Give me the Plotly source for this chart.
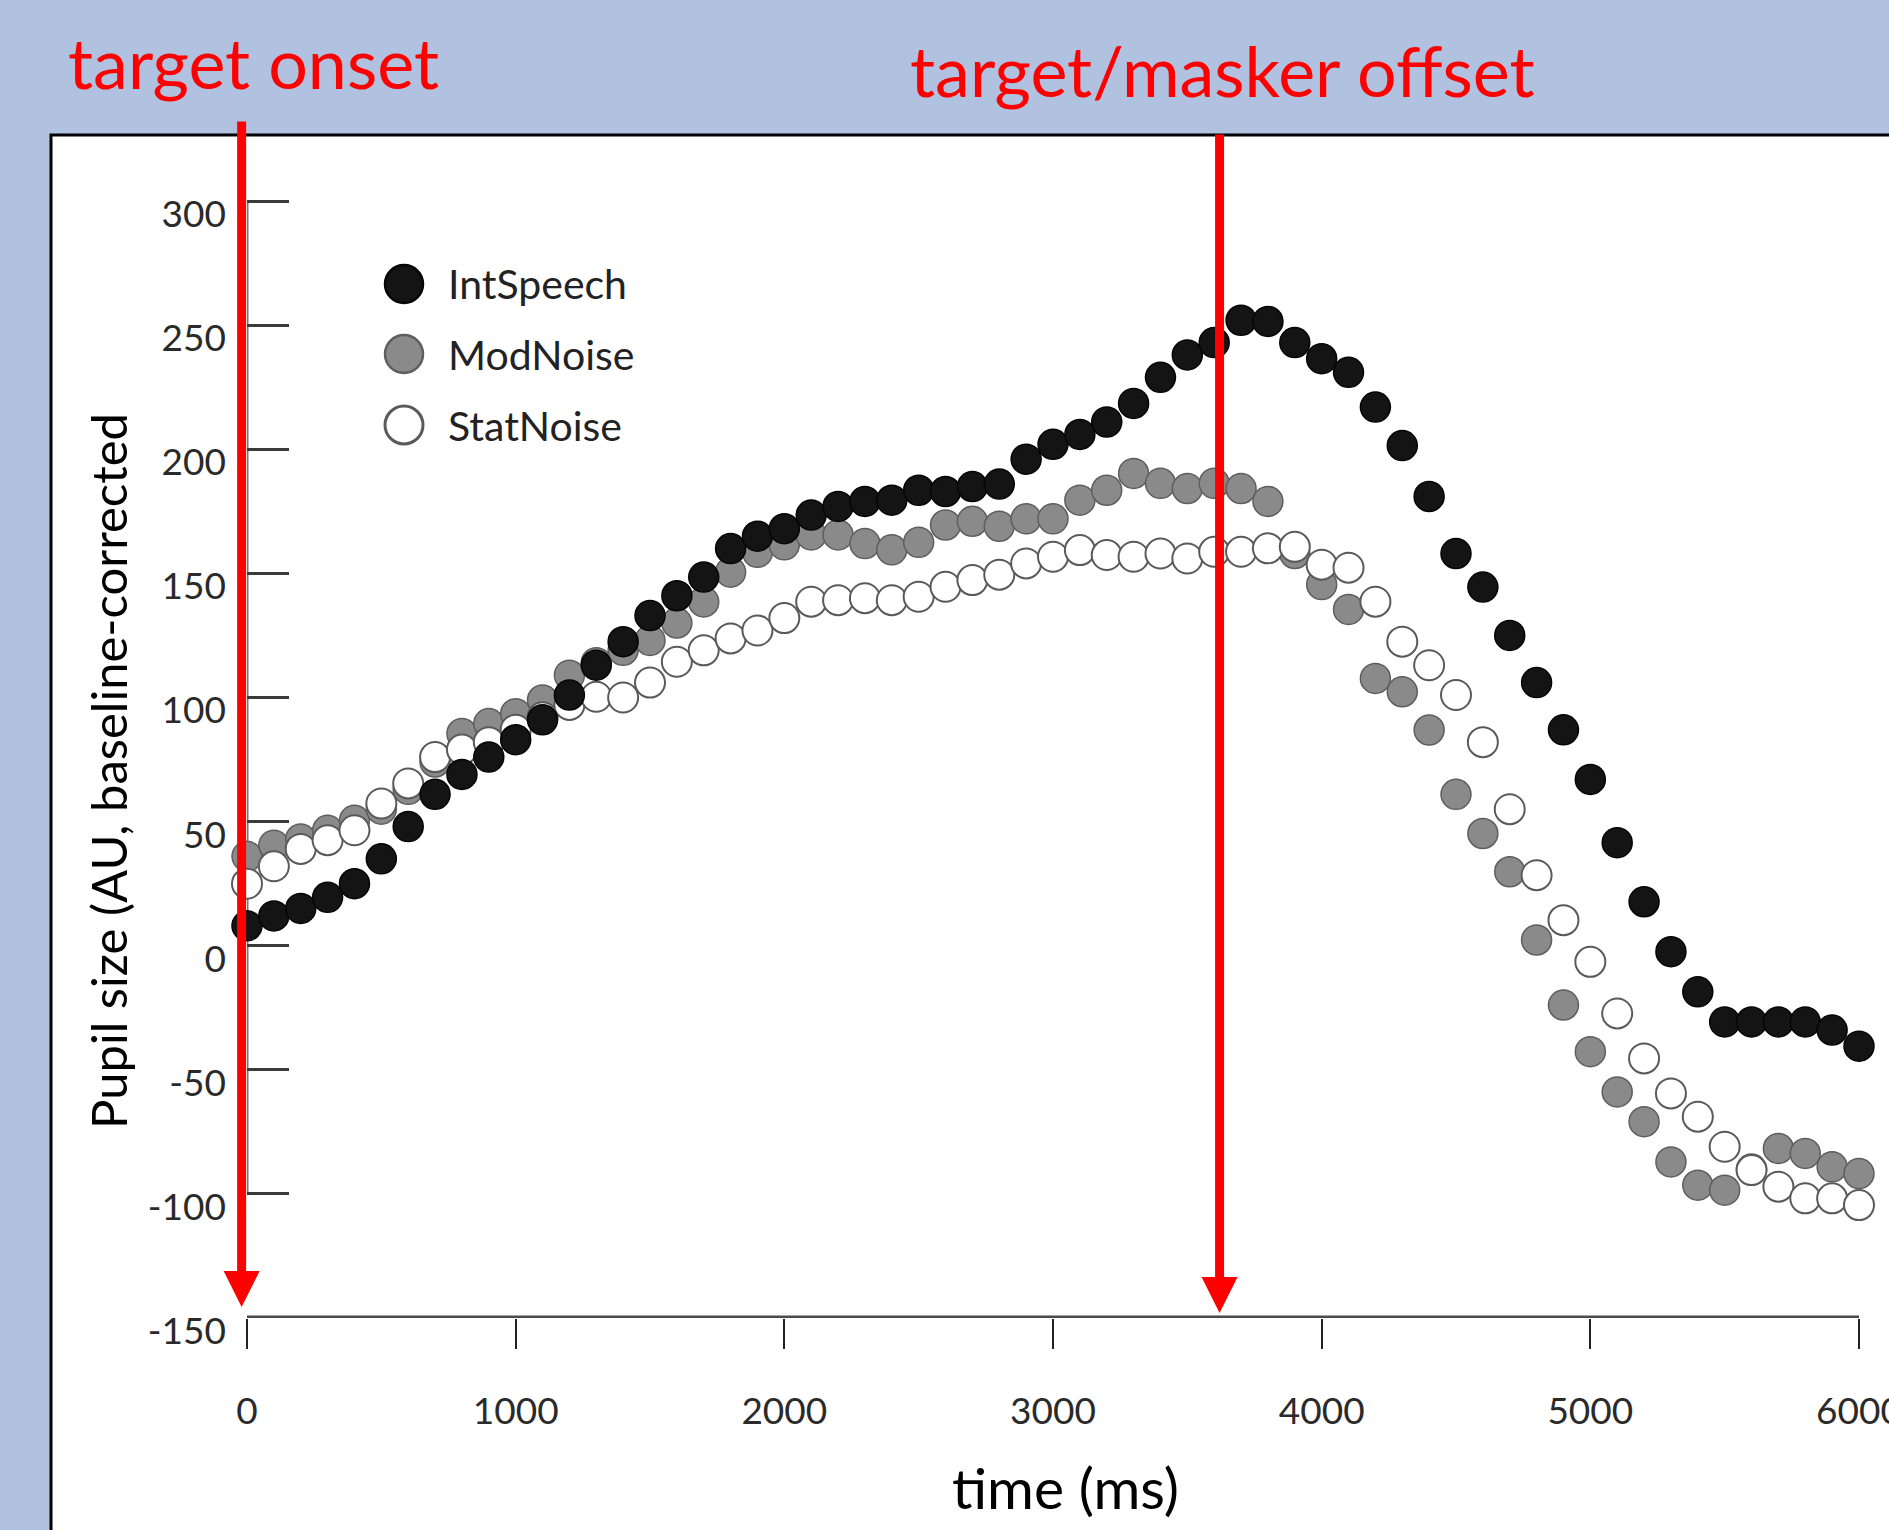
import plotly.graph_objects as go

# ---------------- data ----------------
time_ms = list(range(0, 6001, 100))

int_speech = [8, 12, 15, 19.5, 25, 35, 48, 61, 69, 76,
              83, 91, 101, 113, 122.5, 133, 141, 148.5, 160, 165,
              168, 173.5, 177, 179, 179.5, 183.5, 183, 185, 186, 196,
              202, 206, 211, 218.5, 229, 238, 243, 252, 251.5, 243,
              236.5, 231, 217, 201.5, 181, 158, 144.5, 125, 106, 87,
              67, 41.5, 17.7, -2.4, -18.6, -30.7, -30.7, -30.7, -30.7, -34,
              -40.5]

mod_noise = [36, 40.5, 43, 46.5, 50.5, 55, 63, 74, 85.5, 89.5,
             93.5, 99, 109, 114, 119, 123, 130, 138.5, 150.5, 158.5,
             161.5, 165.5, 165.5, 162, 159.5, 162.5, 169.5, 171, 169, 172,
             172, 179.5, 183.5, 190.3, 186.3, 184.2, 186.3, 184.2, 179, 158,
             145.5, 135.5, 107.7, 102.3, 86.9, 61, 45.2, 29.8, 2.3, -23.9,
             -42.7, -58.9, -70.9, -87.1, -96.5, -98.5, -90, -81.7, -83.7, -89.1,
             -91.8]

stat_noise = [25, 32, 39, 42.5, 46.5, 57.3, 65.4, 76, 79, 82,
              87, 92, 97, 100.3, 100, 106, 114.4, 119, 123.8, 127,
              132, 138.6, 139.2, 140, 139.2, 140.6, 144.6, 147.3, 149.5, 154,
              156.7, 159.4, 157.4, 156.7, 158, 156, 158.7, 158.7, 160.1, 160.7,
              153.5, 152.3, 138.6, 122.5, 113, 101, 82, 55, 28.4, 10.3,
              -6.5, -27.3, -45.4, -59.5, -68.9, -81, -90.4, -97.1, -101.8, -101.8,
              -104.5]

series_names = ["IntSpeech", "ModNoise", "StatNoise"]
x_ticks = [0, 1000, 2000, 3000, 4000, 5000, 6000]
y_ticks = [-150, -100, -50, 0, 50, 100, 150, 200, 250, 300]
onset_ms = -20
offset_ms = 3620

# ---------------- style ----------------
W, H = 1889, 1530
ML, MR, MT, MB = 247, 0, 135, 212
PW, PH = W - ML - MR, H - MT - MB
PX_PER_MS = 1612 / 6000.0
PX_PER_UNIT = 2.482
x_range = [0, PW / PX_PER_MS]
y_range = [-150, -150 + PH / PX_PER_UNIT]

def px_x(p):
    return (p - ML) / PW

def px_y(p):
    return (H - MB - p) / PH

def ms_to_paper(t):
    return (t - x_range[0]) / (x_range[1] - x_range[0])

BG = "#B0C2DF"
FONT = "Lato, 'Open Sans', sans-serif"

styles = {
    "IntSpeech": dict(color="#141414", line=dict(color="#050505", width=1.5)),
    "ModNoise": dict(color="#8A8A8A", line=dict(color="#5E5E5E", width=1.5)),
    "StatNoise": dict(color="#FFFFFF", line=dict(color="#5A5A5A", width=2.0)),
}
values = {"IntSpeech": int_speech, "ModNoise": mod_noise, "StatNoise": stat_noise}

fig = go.Figure()
for name in ["ModNoise", "StatNoise", "IntSpeech"]:
    st = styles[name]
    fig.add_trace(go.Scatter(
        x=time_ms, y=values[name], mode="markers", name=name,
        cliponaxis=False, showlegend=False,
        marker=dict(size=30, color=st["color"], line=st["line"]),
    ))

shapes = []
# white slide frame with black border
shapes.append(dict(type="rect", xref="paper", yref="paper", layer="below",
                   x0=px_x(51), x1=1.2, y0=-0.4, y1=1.0,
                   fillcolor="white", line=dict(color="black", width=3)))
# x axis line (from first to last tick)
shapes.append(dict(type="line", xref="x", yref="y", layer="below",
                   x0=x_ticks[0], x1=x_ticks[-1], y0=y_ticks[0], y1=y_ticks[0],
                   line=dict(color="#4A4A4A", width=5)))
# y axis line
shapes.append(dict(type="line", xref="x", yref="y", layer="below",
                   x0=x_ticks[0], x1=x_ticks[0], y0=y_ticks[1], y1=y_ticks[-1],
                   line=dict(color="#777777", width=3)))

# legend
leg_x = px_x(404)
leg_ys = [px_y(284), px_y(354), px_y(425)]
annotations = []
for name, ly in zip(series_names, leg_ys):
    st = styles[name]
    shapes.append(dict(type="circle", xref="paper", yref="paper",
                       xsizemode="pixel", ysizemode="pixel",
                       xanchor=leg_x, yanchor=ly, x0=-19, x1=19, y0=-19, y1=19,
                       fillcolor=st["color"],
                       line=dict(color=st["line"]["color"], width=st["line"]["width"] + 1)))
    annotations.append(dict(xref="paper", yref="paper", x=px_x(446), y=ly,
                            xanchor="left", yanchor="middle", showarrow=False,
                            text=name, font=dict(family=FONT, size=41, color="#222222")))

# red arrows (paper coordinates so the onset arrow left of 0 is kept)
annotations.append(dict(xref="paper", yref="paper", x=ms_to_paper(onset_ms), y=px_y(1307),
                        ax=0, ay=-(1307 - 120), axref="pixel", ayref="pixel",
                        showarrow=True, arrowhead=2, arrowsize=0.8, arrowwidth=9,
                        arrowcolor="#FF0000", text=""))
annotations.append(dict(xref="paper", yref="paper", x=ms_to_paper(offset_ms), y=px_y(1313),
                        ax=0, ay=-(1313 - 133), axref="pixel", ayref="pixel",
                        showarrow=True, arrowhead=2, arrowsize=0.8, arrowwidth=9,
                        arrowcolor="#FF0000", text=""))

# slide texts
annotations.append(dict(xref="paper", yref="paper", x=px_x(66), y=px_y(62),
                        xanchor="left", yanchor="middle", showarrow=False,
                        text="target onset", font=dict(family=FONT, size=70, color="#FF0000")))
annotations.append(dict(xref="paper", yref="paper", x=px_x(908), y=px_y(70),
                        xanchor="left", yanchor="middle", showarrow=False,
                        text="target/masker offset", font=dict(family=FONT, size=70, color="#FF0000")))

# axis titles
annotations.append(dict(xref="paper", yref="paper", x=px_x(108), y=px_y(771),
                        xanchor="center", yanchor="middle", showarrow=False, textangle=-90,
                        text="Pupil size (AU, baseline-corrected",
                        font=dict(family=FONT, size=49, color="black")))
annotations.append(dict(xref="paper", yref="paper", x=px_x(1065), y=px_y(1487),
                        xanchor="center", yanchor="middle", showarrow=False,
                        text="time (ms)", font=dict(family=FONT, size=57, color="black")))

fig.update_layout(
    width=W, height=H,
    margin=dict(l=ML, r=MR, t=MT, b=MB, pad=0, autoexpand=False),
    paper_bgcolor=BG, plot_bgcolor="white",
    showlegend=False,
    shapes=shapes, annotations=annotations,
    xaxis=dict(range=x_range, tickvals=x_ticks, ticktext=[str(v) for v in x_ticks],
               ticks="outside", ticklen=30, tickwidth=2, tickcolor="#222222",
               showgrid=False, zeroline=False, showline=False,
               ticklabelstandoff=31, ticklabeloverflow="allow", automargin=False,
               tickfont=dict(family=FONT, size=37, color="#2A2A2A")),
    yaxis=dict(range=y_range, tickvals=y_ticks, ticktext=[str(v) for v in y_ticks],
               ticks="inside", ticklen=42, tickwidth=3, tickcolor="#3A3A3A",
               showgrid=False, zeroline=False, showline=False,
               ticklabelstandoff=20, ticklabelshift=13, automargin=False,
               tickfont=dict(family=FONT, size=37, color="#2A2A2A")),
)

fig.write_html("out.html")
